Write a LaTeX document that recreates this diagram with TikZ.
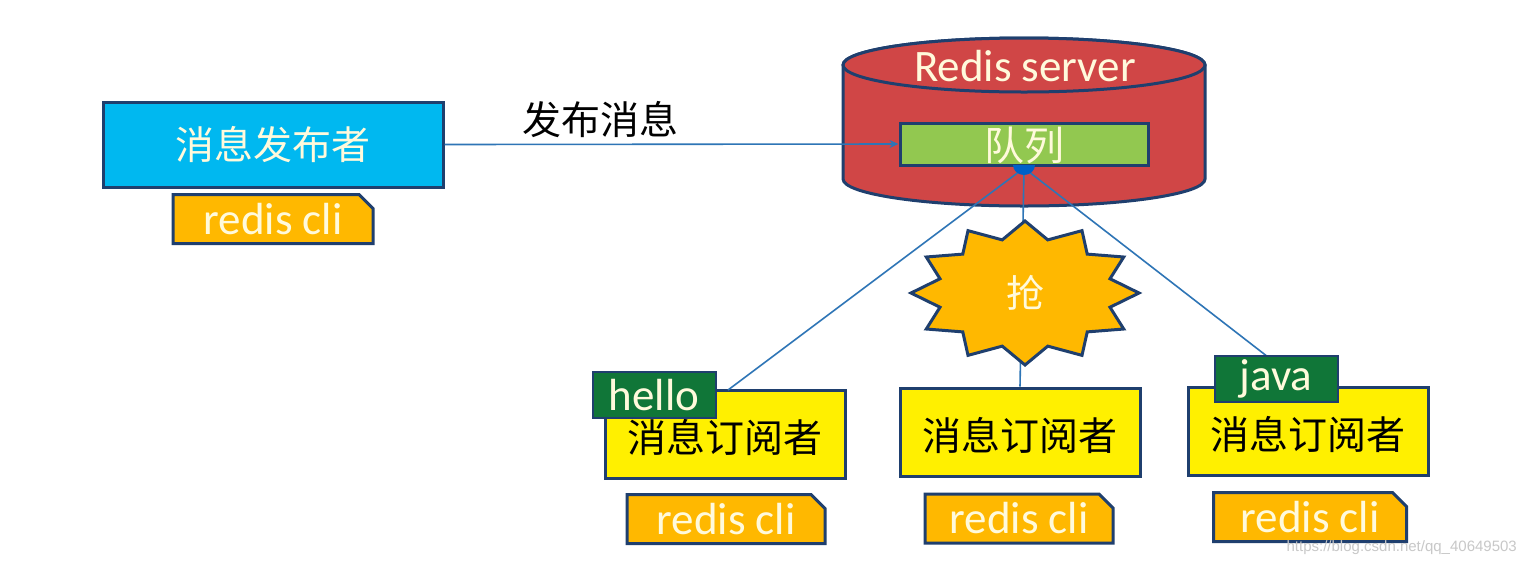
\documentclass[tikz,border=0pt]{standalone}
\usepackage{fontspec}
\setmainfont{Carlito}
\newfontfamily\cjk{Noto Sans CJK SC}
\newfontfamily\urlfont{Liberation Sans}
\usetikzlibrary{shapes.misc,arrows.meta}
\definecolor{navy}{RGB}{31,63,110}
\definecolor{pubblue}{RGB}{0,184,240}
\definecolor{cliorange}{RGB}{255,184,0}
\definecolor{srvred}{RGB}{208,70,70}
\definecolor{qgreen}{RGB}{146,200,80}
\definecolor{subyellow}{RGB}{255,240,0}
\definecolor{taggreen}{RGB}{16,118,56}
\definecolor{linkblue}{RGB}{46,117,182}
\definecolor{cream}{RGB}{255,250,220}
\definecolor{dotblue}{RGB}{0,96,200}
\definecolor{wmgray}{RGB}{200,200,200}
\begin{document}
\begin{tikzpicture}[x=1pt,y=-1pt,
  box/.style={draw=navy, line width=3pt, inner sep=0pt},
  pubbox/.style={box, fill=pubblue, minimum width=340pt, minimum height=85pt,
    text=cream, font=\cjk\fontsize{39}{39}\selectfont},
  subbox/.style={box, fill=subyellow, minimum width=240pt, minimum height=88pt,
    text=black, font=\cjk\fontsize{39}{39}\selectfont, text height=40pt},
  clibox/.style={box, fill=cliorange, chamfered rectangle,
    chamfered rectangle corners=north east,
    chamfered rectangle xsep=7pt, chamfered rectangle ysep=7pt,
    minimum height=49pt, text=cream, font=\fontsize{45}{45}\selectfont},
  qbox/.style={box, fill=qgreen, minimum width=248pt, minimum height=42pt,
    text=cream, font=\cjk\fontsize{40}{40}\selectfont, text depth=0pt},
  tagbox/.style={draw=navy, line width=2pt, fill=taggreen, inner sep=0pt,
    minimum width=123pt, minimum height=46pt, text=cream,
    font=\fontsize{45}{45}\selectfont},
  link/.style={draw=linkblue, line width=1.6pt},
  starsty/.style={draw=navy, line width=3pt, fill=cliorange, line join=miter},
  cylsty/.style={draw=navy, line width=3pt, fill=srvred},
]
\useasboundingbox (0,0) rectangle (1526,566);
\fill[white] (0,0) rectangle (1526,566);

% publisher
\node[pubbox] (pub) at (273,144.5) {消息发布者};
\node[clibox, minimum width=200pt] (cli1) at (273,219) {redis cli};
\node[font=\cjk\fontsize{39}{39}\selectfont, text=black, inner sep=0pt] (pubmsg) at (600,120) {发布消息};

% redis server cylinder
\draw[cylsty] (843,65) -- (843,179) arc[start angle=180, end angle=0, x radius=181, y radius=27]
  -- (1205,65) arc[start angle=0, end angle=-180, x radius=181, y radius=27] -- cycle;
\draw[cylsty] (1024,65) ellipse[x radius=181, y radius=27];
\node[text=cream, font=\fontsize{45}{45}\selectfont, inner sep=0pt] (srv) at (1025,66) {Redis server};
\node[qbox] (queue) at (1024,144) {队列};

% publish arrow
\draw[link, -{Stealth[length=9pt,width=8pt]}] (pub.east) -- (queue.west);

% connectors from queue
\coordinate (dot) at (1024,168);
\coordinate (e1) at (728,390);
\coordinate (e3) at (1268,357);
\node[subbox] (sub1) at (725,434) {消息订阅者};
\node[subbox] (sub2) at (1020,432) {消息订阅者};
\node[subbox] (sub3) at (1308,431) {消息订阅者};
\draw[link] (dot) -- (e1);
\draw[link] (dot) -- (sub2.north);
\draw[link] (dot) -- (e3);
\fill[dotblue] (1013,165) arc[start angle=180, end angle=0, x radius=11, y radius=10] -- cycle;

% burst
\begin{scope}[shift={(1025,293)}]
\draw[starsty] (90:114 and 72) \foreach \a in {0,30,...,330} { -- ({105+\a}:88 and 55) -- ({120+\a}:114 and 72) } -- cycle;
\end{scope}
\node[text=cream, font=\cjk\fontsize{38}{38}\selectfont, inner sep=0pt] (grab) at (1025,293) {抢};

% subscriber tags and clis
\node[tagbox] (hello) at (654,395) {hello};
\node[tagbox] (java) at (1276,379) {java};
\node[clibox, minimum width=198pt] (cli2) at (726,519) {redis cli};
\node[clibox, minimum width=188pt] (cli3) at (1019,518.5) {redis cli};
\node[clibox, minimum width=193pt] (cli4) at (1310,517) {redis cli};

% watermark
\node[text=wmgray, font=\urlfont\fontsize{15}{15}\selectfont, inner sep=0pt, anchor=east] (wm) at (1517,548) {https://blog.csdn.net/qq\_40649503};
\end{tikzpicture}
\end{document}
